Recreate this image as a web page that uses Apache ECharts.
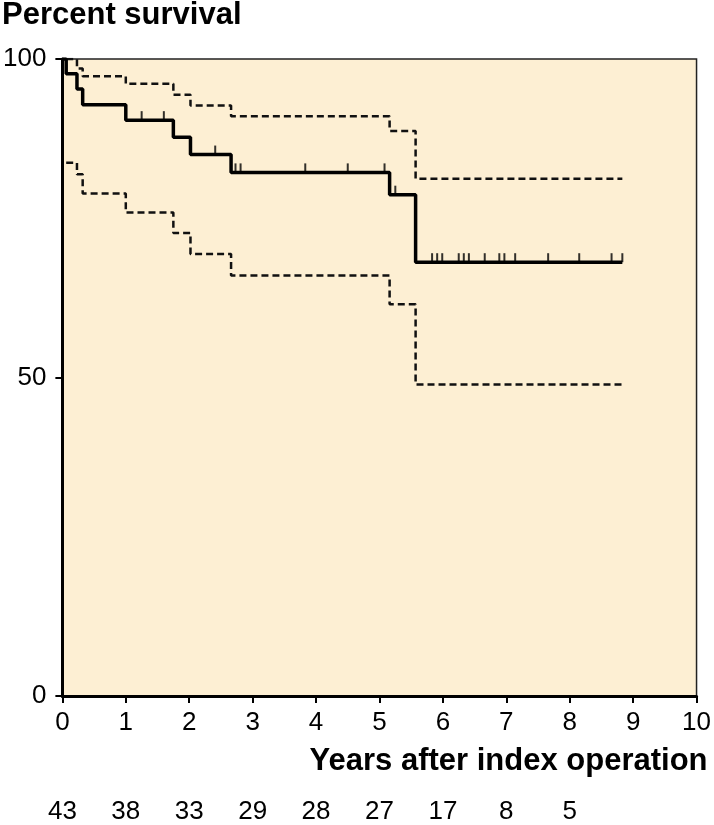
<!DOCTYPE html>
<html>
<head>
<meta charset="utf-8">
<script src="https://cdn.jsdelivr.net/npm/echarts@6/dist/echarts.min.js"></script>
<style>
html,body{margin:0;padding:0;background:#fff;}
#chart{width:714px;height:825px;}
</style>
</head>
<body>
<div id="chart"></div>
<script>
// Kaplan-Meier estimate (step times and survival %)
var survTimes = [0, 0.06, 0.23, 0.32, 1.0, 1.75, 2.02, 2.66, 5.16, 5.57];
var survVals  = [100, 97.7, 95.3, 92.8, 90.4, 87.7, 85.0, 82.2, 78.7, 68.1];
var endTime = 8.83;

// Upper and lower confidence limits
var upperTimes = [0.06, 0.23, 0.32, 1.0, 1.75, 2.02, 2.66, 5.16, 5.57];
var upperVals  = [100, 98.5, 97.3, 96.1, 94.4, 92.7, 91.0, 88.7, 81.2];
var lowerTimes = [0.06, 0.23, 0.32, 1.0, 1.75, 2.02, 2.66, 5.16, 5.57];
var lowerVals  = [83.7, 81.9, 78.9, 75.9, 72.7, 69.4, 66.0, 61.5, 48.9];

// Censored observations (years)
var censorTimes = [1.25, 1.6, 2.41, 2.73, 2.81, 3.83, 4.5, 5.08, 5.25, 5.83, 5.91, 5.99,
                   6.25, 6.33, 6.41, 6.66, 6.89, 6.97, 7.14, 7.66, 8.15, 8.66, 8.83];

// Numbers at risk at each year
var atRisk = [43, 38, 33, 29, 28, 27, 17, 8, 5];

var xTicks = [0,1,2,3,4,5,6,7,8,9,10];
var yTicks = [0, 50, 100];

function stepData(times, vals, end) {
  var d = [];
  for (var i = 0; i < times.length; i++) d.push([times[i], vals[i]]);
  d.push([end, vals[vals.length - 1]]);
  return d;
}
function survAt(t) {
  var v = survVals[0];
  for (var i = 0; i < survTimes.length; i++) { if (survTimes[i] <= t) v = survVals[i]; }
  return v;
}
var censorData = censorTimes.map(function (t) { return [t, survAt(t)]; });

var FONT = '"Liberation Sans", Arial, Helvetica, sans-serif';
var chart = echarts.init(document.getElementById('chart'), null, {renderer: 'canvas'});
chart.setOption({
  animation: false,
  backgroundColor: '#ffffff',
  title: {
    text: 'Percent survival',
    left: 2, top: 0, padding: 0,
    textStyle: {fontFamily: FONT, fontSize: 31, fontWeight: 'bold', color: '#000'}
  },
  grid: {
    left: 60, right: 13, top: 59, bottom: 125,
    show: true, backgroundColor: '#fdefd3', borderColor: '#222', borderWidth: 1.5
  },
  xAxis: [{
    type: 'value', min: 0, max: 10, interval: 1,
    position: 'bottom',
    axisLine: {show: true, onZero: false, lineStyle: {color: '#000', width: 3}},
    axisTick: {show: true, inside: false, length: 7, lineStyle: {color: '#000', width: 2}},
    splitLine: {show: false},
    axisLabel: {margin: 14, fontFamily: FONT, fontSize: 26, color: '#000',
      formatter: function (v) { return xTicks.indexOf(v) >= 0 ? String(v) : ''; }},
    name: 'Years after index operation',
    nameLocation: 'end', nameGap: 11,
    nameTextStyle: {fontFamily: FONT, fontSize: 31, fontWeight: 'bold', color: '#000',
      align: 'right', verticalAlign: 'top', padding: [50, 0, 0, 0]}
  }, {
    type: 'value', min: 0, max: 10, interval: 1,
    position: 'bottom', offset: 89,
    axisLine: {show: false}, axisTick: {show: false}, splitLine: {show: false},
    axisLabel: {margin: 14, fontFamily: FONT, fontSize: 26, color: '#000',
      formatter: function (v) { return (v >= 0 && v < atRisk.length) ? String(atRisk[v]) : ''; }}
  }],
  yAxis: {
    type: 'value', min: 0, max: 100, interval: 50,
    axisLine: {show: true, lineStyle: {color: '#000', width: 3}},
    axisTick: {show: true, inside: false, length: 7, lineStyle: {color: '#000', width: 2}},
    splitLine: {show: false},
    axisLabel: {margin: 16, fontFamily: FONT, fontSize: 26, color: '#000',
      formatter: function (v) { return yTicks.indexOf(v) >= 0 ? String(v) : ''; }}
  },
  series: [{
    type: 'line', step: 'end', symbol: 'none', xAxisIndex: 0,
    data: stepData(upperTimes, upperVals, endTime),
    lineStyle: {color: '#111', width: 2.5, type: [7, 4]}
  }, {
    type: 'line', step: 'end', symbol: 'none', xAxisIndex: 0,
    data: stepData(lowerTimes, lowerVals, endTime),
    lineStyle: {color: '#111', width: 2.5, type: [7, 4]}
  }, {
    type: 'line', step: 'end', symbol: 'none', xAxisIndex: 0,
    data: stepData(survTimes, survVals, endTime),
    lineStyle: {color: '#000', width: 3.5}
  }, {
    type: 'scatter', xAxisIndex: 0,
    data: censorData,
    symbol: 'rect', symbolSize: [2, 9], symbolOffset: [0, -4.5],
    itemStyle: {color: '#000'}
  }]
});
</script>
</body>
</html>
